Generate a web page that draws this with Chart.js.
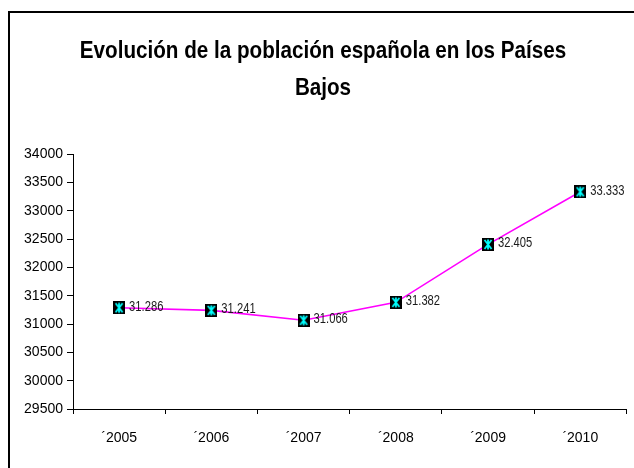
<!DOCTYPE html>
<html>
<head>
<meta charset="utf-8">
<script src="https://cdn.jsdelivr.net/npm/chart.js@4"></script>
<style>
  html, body { margin: 0; padding: 0; background: #fff; }
  #wrap { width: 634px; height: 468px; }
</style>
</head>
<body>
<div id="wrap"><canvas id="c" width="634" height="468"></canvas></div>
<script>
// ---- Data ----
const years = ['2005', '2006', '2007', '2008', '2009', '2010'];
const categories = years.map(y => '\u00B4' + y);
const population = [31286, 31241, 31066, 31382, 32405, 33333];
const titleLines = ['Evolución de la población española en los Países', 'Bajos'];
const yMin = 29500, yMax = 34000, yStep = 500;

const FONT = '"Liberation Sans", Arial, sans-serif';

function fmtDot(v) {
  return String(v).replace(/\B(?=(\d{3})+(?!\d))/g, '.');
}

// marker: black square with cyan star
function makeMarker() {
  const c = document.createElement('canvas');
  c.width = 12; c.height = 13;
  const g = c.getContext('2d');
  g.fillStyle = '#000';
  g.fillRect(0, 0, 12, 13);
  g.strokeStyle = '#00FFFF';
  g.lineWidth = 1.8;
  g.beginPath();
  g.moveTo(2.5, 2); g.lineTo(9.5, 11);
  g.moveTo(9.5, 2); g.lineTo(2.5, 11);
  g.moveTo(6, 1.5); g.lineTo(6, 11.5);
  g.stroke();
  return c;
}
const marker = makeMarker();

function narrowText(ctx, text, x, y, sx) {
  ctx.save();
  ctx.translate(x, y);
  ctx.scale(sx, 1);
  ctx.fillText(text, 0, 0);
  ctx.restore();
}

const decor = {
  id: 'decor',
  beforeDraw(chart) {
    const ctx = chart.ctx;
    ctx.save();
    ctx.fillStyle = '#fff';
    ctx.fillRect(0, 0, chart.width, chart.height);
    ctx.strokeStyle = '#000';
    ctx.lineWidth = 2;
    ctx.strokeRect(9, 12, 700, 600);
    ctx.fillStyle = '#000';
    ctx.font = 'bold 24px ' + FONT;
    ctx.textAlign = 'center';
    ctx.textBaseline = 'middle';
    narrowText(ctx, titleLines[0], 323, 51, 0.86);
    narrowText(ctx, titleLines[1], 323, 88, 0.86);
    ctx.restore();
  },
  afterDatasetsDraw(chart) {
    const ctx = chart.ctx;
    const meta = chart.getDatasetMeta(0);
    ctx.save();
    ctx.fillStyle = '#1a1a1a';
    ctx.font = '14px ' + FONT;
    ctx.textAlign = 'left';
    ctx.textBaseline = 'middle';
    meta.data.forEach((pt, i) => {
      narrowText(ctx, fmtDot(population[i]), pt.x + 10, pt.y - 1, 0.8);
    });
    ctx.restore();
  }
};

new Chart(document.getElementById('c'), {
  type: 'line',
  data: {
    labels: categories,
    datasets: [{
      data: population,
      borderColor: '#FF00FF',
      borderWidth: 1.6,
      pointStyle: marker,
      pointRadius: 6,
      pointHoverRadius: 6,
      tension: 0,
      fill: false
    }]
  },
  options: {
    responsive: false,
    animation: false,
    events: [],
    layout: { padding: { top: 154, left: 0, right: 5, bottom: 0 } },
    plugins: { legend: { display: false }, title: { display: false }, tooltip: { enabled: false } },
    scales: {
      x: {
        offset: true,
        grid: { offset: true, drawOnChartArea: false, drawTicks: true, tickLength: 5, color: '#000' },
        border: { display: true, color: '#000', width: 1 },
        ticks: { color: '#000', font: { family: FONT, size: 14 }, padding: 16, maxRotation: 0 },
        afterFit(s) { s.height = 59; }
      },
      y: {
        min: yMin, max: yMax,
        grid: { drawOnChartArea: false, drawTicks: true, tickLength: 6, color: '#000' },
        border: { display: true, color: '#000', width: 1 },
        ticks: { stepSize: yStep, color: '#000', font: { family: FONT, size: 14 }, padding: 4,
                 callback: v => String(v) },
        afterFit(s) { s.width = 73; }
      }
    }
  },
  plugins: [decor]
});
</script>
</body>
</html>
